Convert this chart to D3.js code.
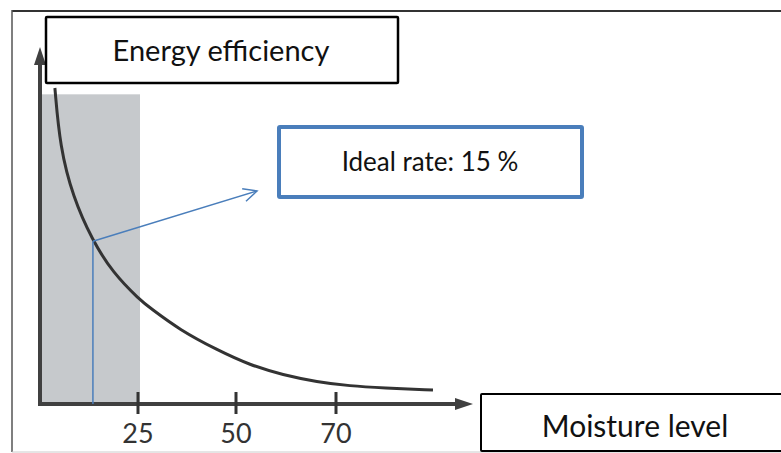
<!DOCTYPE html>
<html><head><meta charset="utf-8">
<script src="https://cdn.jsdelivr.net/npm/d3@7"></script>
<style>html,body{margin:0;padding:0;background:#fff;} svg{display:block;}</style>
</head><body>
<script>
// ---- data ----
const tickValues = [25, 50, 70];
const tickLabels = ["25", "50", "70"];
const moisture   = [3.8, 5.1, 8.4, 13.3, 18.6, 25.5, 28.1, 35.7, 45.2, 52.8, 59.4, 66.2, 72.8, 79.4, 89.4];
const efficiency = [100, 81.3, 65.5, 51.9, 41.5, 32.9, 30.4, 23.4, 17.1, 12.3, 9.2, 7.0, 5.7, 5.1, 4.4];
const shadedRange = [0, 25];
const shadedTop = 98;
const idealMarker = 13.5;      // where the marker is drawn
const idealLabel = "Ideal rate: 15 %";
const yTitle = "Energy efficiency";
const xTitle = "Moisture level";
const axisEnds = {x: 97.4, y: 113};
const arrowTarget = {x: 54.2, y: 67.4};

const W = 781, H = 453;
const svg = d3.select("body").append("svg").attr("width", W).attr("height", H);

// piecewise scale matching the unevenly spaced ticks
const x = d3.scaleLinear().domain([0, 25, 50, 70]).range([40, 138, 236, 336]);
const y = d3.scaleLinear().domain([0, 100]).range([404, 88]);

const FONT = "Lato, 'Open Sans', sans-serif";

// outer frame
svg.append("line").attr("x1", 12).attr("x2", W).attr("y1", 11).attr("y2", 11).attr("stroke", "#333").attr("stroke-width", 2);
svg.append("line").attr("x1", 12).attr("x2", 12).attr("y1", 10).attr("y2", 452).attr("stroke", "#555").attr("stroke-width", 1.5);
svg.append("line").attr("x1", 12).attr("x2", W).attr("y1", 452).attr("y2", 452).attr("stroke", "#ccc").attr("stroke-width", 1);

// shaded region
svg.append("rect")
  .attr("x", x(shadedRange[0])).attr("y", y(shadedTop))
  .attr("width", x(shadedRange[1]) - x(shadedRange[0]) + 2)
  .attr("height", y(0) - y(shadedTop))
  .attr("fill", "#c6c9cc");

// curve
const pts = moisture.map((m, i) => [m, efficiency[i]]);
svg.append("path").datum(pts)
  .attr("d", d3.line().x(d => x(d[0])).y(d => y(d[1])).curve(d3.curveBasis))
  .attr("fill", "none").attr("stroke", "#333").attr("stroke-width", 3);

// axes
const x0 = x(0), y0 = y(0);
const xEnd = x(axisEnds.x);
svg.append("line").attr("x1", x0 - 2).attr("x2", xEnd - 14).attr("y1", y0).attr("y2", y0)
  .attr("stroke", "#404040").attr("stroke-width", 4);
svg.append("path").attr("d", `M${xEnd},${y0} L${xEnd - 18},${y0 - 6} L${xEnd - 18},${y0 + 6} Z`).attr("fill", "#404040");
const yEnd = y(axisEnds.y);
svg.append("line").attr("x1", x0).attr("x2", x0).attr("y1", y0 + 2).attr("y2", yEnd + 14)
  .attr("stroke", "#404040").attr("stroke-width", 4);
svg.append("path").attr("d", `M${x0},${yEnd} L${x0 - 6},${yEnd + 18} L${x0 + 6},${yEnd + 18} Z`).attr("fill", "#404040");

// ticks
const ticks = svg.append("g");
tickValues.forEach((v, i) => {
  ticks.append("line").attr("x1", x(v)).attr("x2", x(v)).attr("y1", y0 - 12).attr("y2", y0 + 10)
    .attr("stroke", "#333").attr("stroke-width", 3);
  ticks.append("text").attr("x", x(v)).attr("y", y0 + 39)
    .attr("text-anchor", "middle").attr("font-family", FONT).attr("font-size", 27)
    .attr("fill", "#333").text(tickLabels[i]);
});

// ideal marker
const blue = "#4a7ebb";
const curveY = d3.scaleLinear().domain(moisture).range(efficiency);
const mx = x(idealMarker), my = y(curveY(idealMarker));
svg.append("line").attr("x1", mx).attr("x2", mx).attr("y1", y0).attr("y2", my)
  .attr("stroke", blue).attr("stroke-width", 1.5);
const ax = x(arrowTarget.x), ay = y(arrowTarget.y);
svg.append("line").attr("x1", mx).attr("x2", ax).attr("y1", my).attr("y2", ay)
  .attr("stroke", blue).attr("stroke-width", 1.5);
const ang = Math.atan2(ay - my, ax - mx);
const hl = 15, ha = 0.45;
svg.append("path")
  .attr("d", `M${ax - hl * Math.cos(ang - ha)},${ay - hl * Math.sin(ang - ha)} L${ax},${ay} L${ax - hl * Math.cos(ang + ha)},${ay - hl * Math.sin(ang + ha)}`)
  .attr("fill", "none").attr("stroke", blue).attr("stroke-width", 1.5);

// label boxes
function box(x1, y1, w, h, stroke, sw, label, fs, tx, ty) {
  svg.append("rect").attr("x", x1).attr("y", y1).attr("width", w).attr("height", h).attr("rx", 1)
    .attr("fill", "#fff").attr("stroke", stroke).attr("stroke-width", sw);
  svg.append("text").attr("x", tx).attr("y", ty).attr("text-anchor", "middle")
    .attr("font-family", FONT).attr("font-size", fs).attr("fill", "#111").text(label);
}
box(46, 17, 352, 66, "#000", 2.5, yTitle, 29, 221, 61);
box(279, 127, 303, 70, blue, 4, idealLabel, 26, 430, 171);
box(481, 394, 340, 57, "#000", 2, xTitle, 30, 635, 437);
</script>
</body></html>
